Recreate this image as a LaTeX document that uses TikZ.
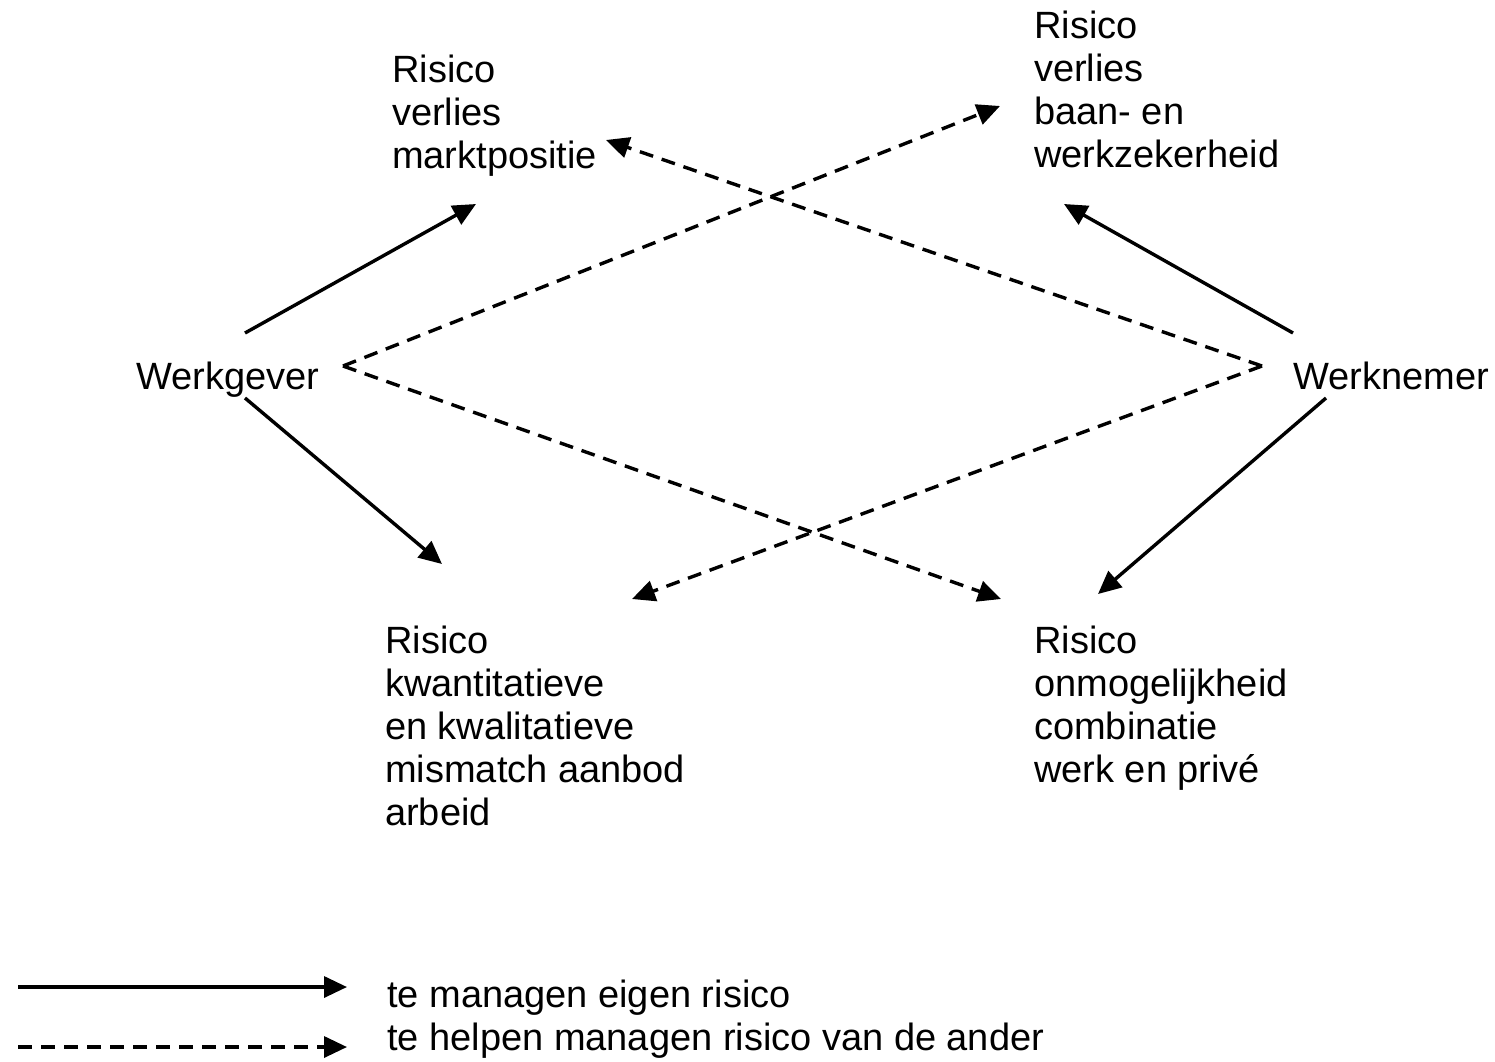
\documentclass[tikz,border=0pt]{standalone}
\usepackage{fontspec}
\setmainfont{Liberation Sans}
\usetikzlibrary{arrows.meta}
\begin{document}
\begin{tikzpicture}[x=1pt,y=-1pt,
  lbl/.style={anchor=base west,inner sep=0pt,font=\fontsize{38}{43}\selectfont},
  own/.style={line width=3.4pt,-{Triangle[length=23pt,width=21pt]}},
  help/.style={line width=3.4pt,dash pattern=on 14pt off 9pt,-{Triangle[length=23pt,width=21pt]}}]
\useasboundingbox (0,0) rectangle (1495,1061);
% text nodes
\node[lbl] (mp) at (392,82) {\begin{tabular}[t]{@{}l@{}}Risico\\verlies\\marktpositie\end{tabular}};
\node[lbl] (bz) at (1034,38) {\begin{tabular}[t]{@{}l@{}}Risico\\verlies\\baan- en\\werkzekerheid\end{tabular}};
\node[lbl] (wg) at (136,389) {Werkgever};
\node[lbl] (wn) at (1293,389) {Werknemer};
\node[lbl] (kw) at (385,653) {\begin{tabular}[t]{@{}l@{}}Risico\\kwantitatieve\\en kwalitatieve\\mismatch aanbod\\arbeid\end{tabular}};
\node[lbl] (om) at (1034,653) {\begin{tabular}[t]{@{}l@{}}Risico\\onmogelijkheid\\combinatie\\werk en privé\end{tabular}};
\node[lbl] (lg) at (387,1007) {\begin{tabular}[t]{@{}l@{}}te managen eigen risico\\te helpen managen risico van de ander\end{tabular}};
% connector end points
\coordinate (wg-up) at (245,333);
\coordinate (wg-dn) at (245,398);
\coordinate (wg-v) at (343,366);
\coordinate (wn-up) at (1293,333);
\coordinate (wn-dn) at (1326,398);
\coordinate (wn-v) at (1262,366);
\coordinate (mp-in) at (476,204);
\coordinate (mp-dash) at (606,140);
\coordinate (bz-in) at (1064,204);
\coordinate (bz-dash) at (1000,106);
\coordinate (kw-in) at (442,564);
\coordinate (kw-dash) at (632,599);
\coordinate (om-in) at (1098,594);
\coordinate (om-dash) at (1001,599);
% own risk
\draw[own] (wg-up) -- (mp-in);
\draw[own] (wg-dn) -- (kw-in);
\draw[own] (wn-up) -- (bz-in);
\draw[own] (wn-dn) -- (om-in);
% helping
\draw[help] (wg-v) -- (bz-dash);
\draw[help] (wg-v) -- (om-dash);
\draw[help] (wn-v) -- (mp-dash);
\draw[help] (wn-v) -- (kw-dash);
% legend
\coordinate (l1a) at (18,987);
\coordinate (l1b) at (347,987);
\coordinate (l2a) at (18,1047);
\coordinate (l2b) at (347,1047);
\draw[own] (l1a) -- (l1b);
\draw[help] (l2a) -- (l2b);
\end{tikzpicture}
\end{document}
